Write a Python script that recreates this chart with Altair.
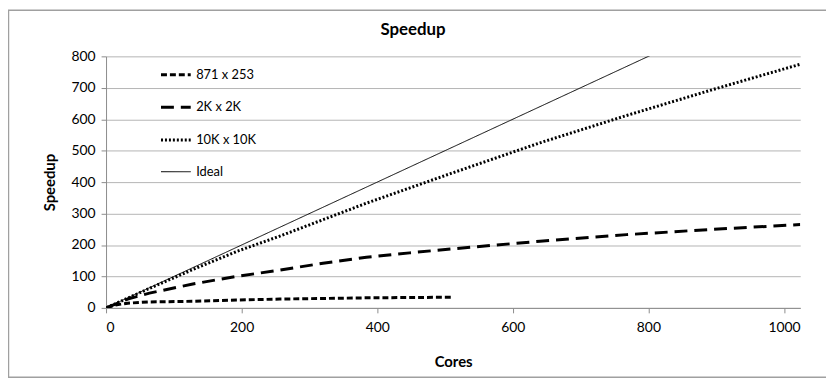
import altair as alt
import pandas as pd

cores_871 = [1, 16, 32, 64, 128, 192, 256, 320, 384, 448, 512]
s_871 = [1, 10, 15, 19, 21, 25, 28, 30, 32, 33, 34]
cores_2k = [1, 32, 64, 128, 192, 256, 320, 384, 448, 512, 640, 768, 896, 1024]
s_2k = [1, 28, 47, 76, 100, 120, 142, 161, 175, 188, 212, 233, 250, 265]
cores_10k = [1, 64, 128, 192, 256, 384, 512, 640, 768, 896, 1024]
s_10k = [1, 62, 122, 179, 228, 333, 430, 525, 612, 695, 775]
cores_ideal = [0, 1024]
s_ideal = [0, 1024]

series = ["871 x 253", "2K x 2K", "10K x 10K", "Ideal"]
dashes = [[6, 3], [13, 7], [2, 2], [1, 0]]
widths = [3, 3, 3, 1]

rows = []
for name, cs, vals in [("871 x 253", cores_871, s_871), ("2K x 2K", cores_2k, s_2k),
                       ("10K x 10K", cores_10k, s_10k), ("Ideal", cores_ideal, s_ideal)]:
    for c, v in zip(cs, vals):
        rows.append({"Cores": c, "Speedup": v, "Series": name})
df = pd.DataFrame(rows)

W, H = 701, 254
FONT = "Lato"

leg = dict(title=None, orient="none", legendX=54, legendY=2,
           symbolType="stroke", symbolSize=900, symbolStrokeColor="black",
           rowPadding=9, labelFontSize=13, labelFont=FONT, labelOffset=4, labelColor="black")

lines = alt.Chart(df).mark_line(clip=True, color="black").encode(
    x=alt.X("Cores:Q", scale=alt.Scale(domain=[0, 1024], nice=False),
            axis=alt.Axis(values=[0, 200, 400, 600, 800, 1000], grid=False, format="d",
                          title="Cores", titlePadding=20, labelPadding=8)),
    y=alt.Y("Speedup:Q", scale=alt.Scale(domain=[0, 800], nice=False),
            axis=alt.Axis(values=[0, 100, 200, 300, 400, 500, 600, 700, 800],
                          title="Speedup", titlePadding=14, labelPadding=6)),
    strokeDash=alt.StrokeDash("Series:N", scale=alt.Scale(domain=series, range=dashes),
                              legend=alt.Legend(**leg)),
    strokeWidth=alt.StrokeWidth("Series:N",
                                scale=alt.Scale(type="ordinal", domain=series, range=widths),
                                legend=alt.Legend(**leg)),
    detail="Series:N",
    order="Cores:Q",
)

border = alt.Chart(pd.DataFrame({"a": [0]})).mark_rect(fill=None, stroke="#a0a0a0", strokeWidth=1.5).encode(
    x=alt.value(-98.5), x2=alt.value(W + 40), y=alt.value(-46.5), y2=alt.value(H + 70)
)

title = alt.Chart(pd.DataFrame({"t": ["Speedup"]})).mark_text(
    font=FONT, fontSize=17, fontWeight="bold", color="black", align="center", baseline="middle"
).encode(text="t:N", x=alt.value(310), y=alt.value(-27))

chart = alt.layer(border, title, lines).properties(
    width=W, height=H,
    autosize=alt.AutoSizeParams(type="none"),
    padding={"left": 99, "top": 47, "right": 26, "bottom": 72},
).configure_view(stroke=None).configure_axis(
    domainColor="#8c8c8c", tickColor="#8c8c8c", gridColor="#b4b4b4", tickSize=5,
    labelFont=FONT, labelFontSize=14, labelColor="black",
    titleFont=FONT, titleFontSize=15, titleFontWeight="bold", titleColor="black",
)

chart.save("out.html", embed_options={"renderer": "svg", "actions": False})
